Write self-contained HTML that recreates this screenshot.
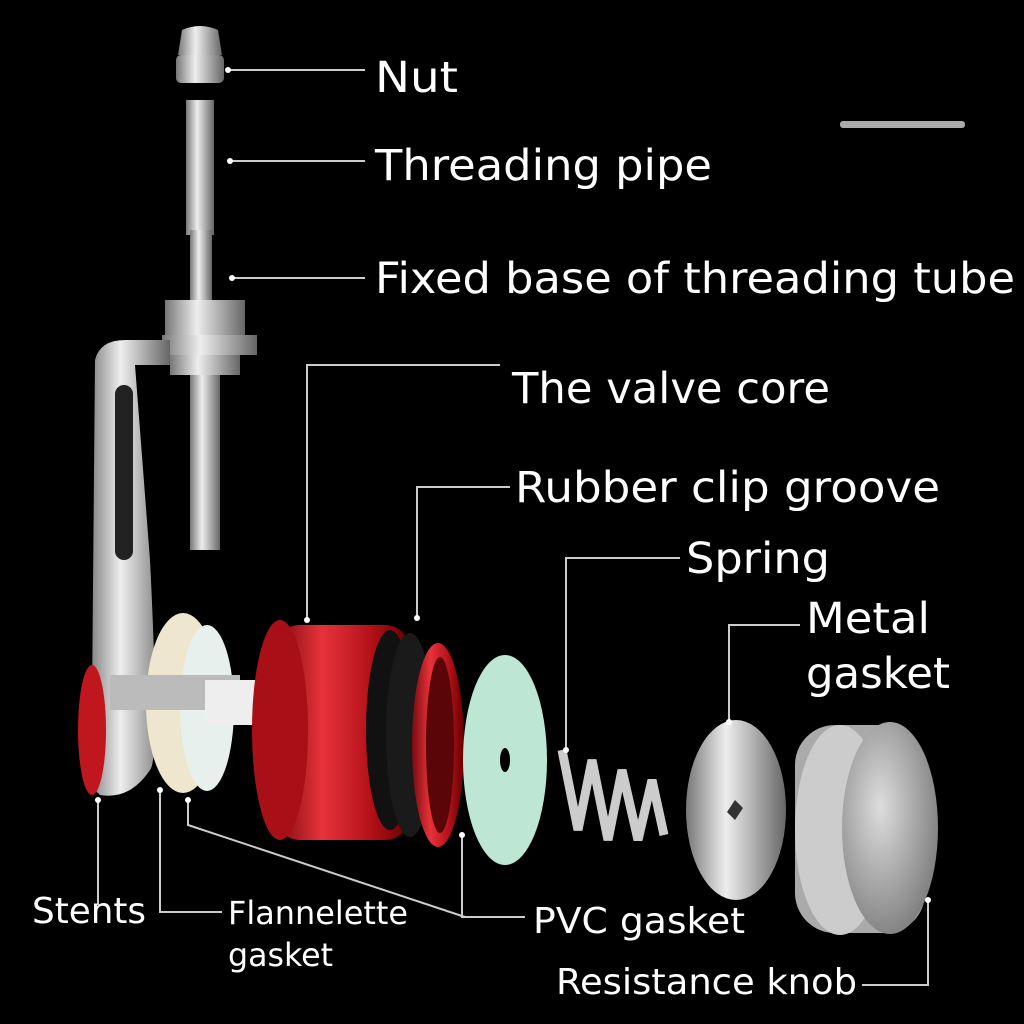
<!DOCTYPE html>
<html><head><style>
html,body{margin:0;padding:0;background:#000;}
svg{display:block}
text{font-family:"DejaVu Sans","Liberation Sans",sans-serif;fill:#fff;}
</style></head><body>
<svg width="1024" height="1024" viewBox="0 0 1024 1024">
<defs>
<linearGradient id="steel" x1="0" x2="1"><stop offset="0" stop-color="#777"/><stop offset=".4" stop-color="#eee"/><stop offset="1" stop-color="#666"/></linearGradient>
<linearGradient id="red" x1="0" x2="1"><stop offset="0" stop-color="#7a0a0f"/><stop offset=".35" stop-color="#e8323a"/><stop offset=".7" stop-color="#b5121a"/><stop offset="1" stop-color="#600"/></linearGradient>
<radialGradient id="knob" cx=".4" cy=".4" r=".7"><stop offset="0" stop-color="#ddd"/><stop offset="1" stop-color="#777"/></radialGradient>
</defs>
<rect width="1024" height="1024" fill="#000"/>
<path d="M178,55 L182,30 Q200,22 218,30 L222,55 Z" fill="url(#steel)"/>
<rect x="176" y="55" width="48" height="28" rx="5" fill="url(#steel)"/>
<rect x="186" y="100" width="28" height="135" fill="url(#steel)"/>
<rect x="190" y="230" width="22" height="70" fill="url(#steel)"/>
<rect x="165" y="300" width="80" height="40" fill="url(#steel)"/>
<rect x="162" y="335" width="95" height="20" fill="url(#steel)"/>
<rect x="170" y="355" width="70" height="20" fill="url(#steel)"/>
<rect x="190" y="375" width="30" height="175" fill="url(#steel)"/>
<path d="M95,360 Q100,340 125,340 L170,340 L170,365 L135,365 L150,560 Q160,760 150,770 Q130,800 100,795 Q80,780 92,700 Z" fill="url(#steel)"/>
<rect x="115" y="385" width="18" height="175" rx="9" fill="#222"/>
<ellipse cx="92" cy="730" rx="14" ry="65" fill="#c0161e"/>
<ellipse cx="183" cy="703" rx="37" ry="90" fill="#eee6cf"/>
<ellipse cx="207" cy="708" rx="27" ry="83" fill="#e8f0ee"/>
<rect x="110" y="675" width="130" height="35" fill="#bbb"/>
<rect x="205" y="680" width="60" height="45" fill="#eee"/>
<rect x="275" y="625" width="135" height="215" rx="25" fill="url(#red)"/>
<ellipse cx="280" cy="730" rx="28" ry="110" fill="#a80f16"/>
<ellipse cx="390" cy="730" rx="24" ry="100" fill="#111"/>
<ellipse cx="410" cy="735" rx="24" ry="102" fill="#1a1a1a"/>
<ellipse cx="438" cy="745" rx="26" ry="102" fill="url(#red)"/>
<ellipse cx="440" cy="745" rx="14" ry="88" fill="#5a0608"/>
<ellipse cx="505" cy="760" rx="42" ry="105" fill="#bde6d4"/>
<ellipse cx="505" cy="760" rx="5" ry="12" fill="#000"/>
<path d="M562,750 L578,830 L592,760 L608,840 L622,770 L638,840 L652,780 L664,835" stroke="#ccc" stroke-width="9" fill="none"/>
<ellipse cx="736" cy="810" rx="50" ry="90" fill="url(#steel)"/>
<path d="M735,800 l8,8 l-8,12 l-8,-8 z" fill="#333"/>
<rect x="795" y="725" width="130" height="208" rx="40" fill="#aaa"/>
<ellipse cx="840" cy="830" rx="45" ry="105" fill="#ccc"/>
<ellipse cx="890" cy="828" rx="48" ry="106" fill="url(#knob)"/>
<rect x="840" y="121" width="125" height="7" rx="3" fill="#aaa"/>
<g stroke="#ccc" stroke-width="2" fill="none">
<path d="M228,70 H365"/><path d="M230,161 H365"/><path d="M232,278 H365"/>
<path d="M307,620 V365 H500"/><path d="M417,618 V487 H510"/>
<path d="M566,750 V558 H680"/><path d="M729,722 V625 H800"/>
<path d="M98,800 V905"/><path d="M160,790 V912 H222"/>
<path d="M188,800 V825 L465,917"/><path d="M462,835 V917 H525"/>
<path d="M928,900 V985 H862"/>
</g>
<g fill="#fff">
<circle cx="228" cy="70" r="3"/><circle cx="230" cy="161" r="3"/><circle cx="232" cy="278" r="3"/>
<circle cx="307" cy="620" r="3"/><circle cx="417" cy="618" r="3"/><circle cx="566" cy="750" r="3"/>
<circle cx="729" cy="722" r="3"/><circle cx="98" cy="800" r="3"/><circle cx="160" cy="790" r="3"/>
<circle cx="188" cy="800" r="3"/><circle cx="462" cy="835" r="3"/><circle cx="928" cy="900" r="3"/>
</g>
<g font-size="43">
<text x="375" y="92" textLength="83" lengthAdjust="spacingAndGlyphs">Nut</text>
<text x="375" y="180" textLength="337" lengthAdjust="spacingAndGlyphs">Threading pipe</text>
<text x="375" y="293" textLength="640" lengthAdjust="spacingAndGlyphs">Fixed base of threading tube</text>
<text x="512" y="403" textLength="318" lengthAdjust="spacingAndGlyphs">The valve core</text>
<text x="515" y="502" textLength="425" lengthAdjust="spacingAndGlyphs">Rubber clip groove</text>
<text x="686" y="573" textLength="144" lengthAdjust="spacingAndGlyphs">Spring</text>
<text x="806" y="633" textLength="124" lengthAdjust="spacingAndGlyphs">Metal</text>
<text x="806" y="688" textLength="144" lengthAdjust="spacingAndGlyphs">gasket</text>
</g>
<g font-size="36">
<text x="32" y="923" textLength="114" lengthAdjust="spacingAndGlyphs">Stents</text>
<text x="533" y="933" textLength="212" lengthAdjust="spacingAndGlyphs">PVC gasket</text>
<text x="556" y="994" textLength="301" lengthAdjust="spacingAndGlyphs">Resistance knob</text>
</g>
<g font-size="32">
<text x="228" y="924" textLength="180" lengthAdjust="spacingAndGlyphs">Flannelette</text>
<text x="228" y="966" textLength="105" lengthAdjust="spacingAndGlyphs">gasket</text>
</g>
</svg>
</body></html>
